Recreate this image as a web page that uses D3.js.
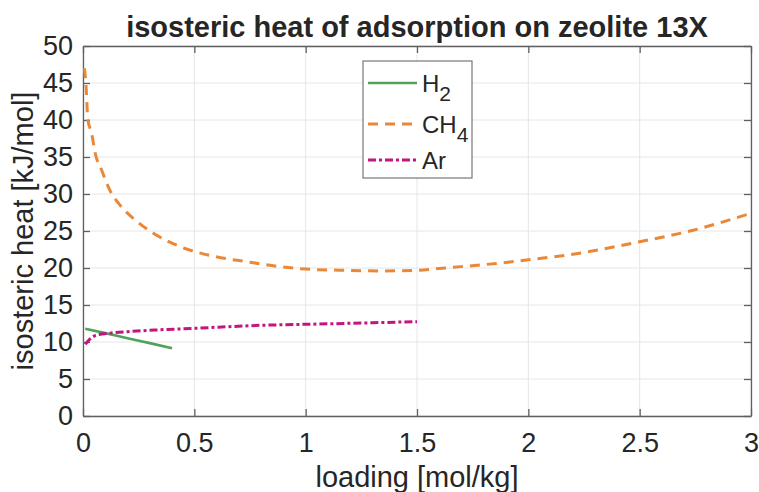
<!DOCTYPE html>
<html>
<head>
<meta charset="utf-8">
<script src="https://cdn.jsdelivr.net/npm/d3@7"></script>
<style>
  body { margin: 0; background: #fff; }
  text { font-family: "Liberation Sans", Arial, Helvetica, sans-serif; fill: #262626; }
</style>
</head>
<body>
<div class="chart"></div>
<script>
// series
var h2X = [0.01, 0.1, 0.2, 0.3, 0.4];
var h2Y = [11.8, 11.2, 10.5, 9.85, 9.15];

var ch4X = [0.006, 0.013, 0.022, 0.039, 0.054, 0.084, 0.121, 0.166, 0.226, 0.316, 0.436, 0.585, 0.735, 0.855, 1.0, 1.15, 1.334, 1.5, 1.663, 1.8, 2.0, 2.25, 2.5, 2.74, 3.0];
var ch4Y = [47, 45, 40, 38.2, 35.6, 33.2, 30.5, 28.5, 26.7, 24.7, 22.9, 21.6, 20.85, 20.3, 19.85, 19.7, 19.6, 19.7, 20.1, 20.45, 21.1, 22.1, 23.55, 25.1, 27.4];

var arX = [0.01, 0.031, 0.062, 0.121, 0.2, 0.346, 0.5, 0.795, 1.094, 1.3, 1.5];
var arY = [9.7, 10.4, 10.95, 11.2, 11.4, 11.65, 11.85, 12.25, 12.45, 12.6, 12.75];

var xTicks = [0, 0.5, 1, 1.5, 2, 2.5, 3];
var yTicks = [0, 5, 10, 15, 20, 25, 30, 35, 40, 45, 50];

var seriesNames = ["H", "CH", "Ar"];
var seriesSubs = ["2", "4", ""];

var svgWidth = 759;
var svgHeight = 492;
var margin = {top: 46, right: 8, bottom: 76, left: 83};
var width = svgWidth - margin.left - margin.right;
var height = svgHeight - margin.top - margin.bottom;

var svg = d3.select(".chart")
  .append("svg")
  .attr("width", svgWidth)
  .attr("height", svgHeight);

var chart = svg.append("g")
  .attr("transform", "translate(" + margin.left + "," + margin.top + ")");

var x = d3.scaleLinear().domain([0, 3]).range([0, width]);
var y = d3.scaleLinear().domain([0, 50]).range([height, 0]);

// grid
chart.append("g")
  .selectAll("line.gx")
  .data(xTicks)
  .enter().append("line")
  .attr("x1", d => x(d)).attr("x2", d => x(d))
  .attr("y1", 0).attr("y2", height)
  .attr("stroke", "#e6e6e6").attr("stroke-width", 1);
chart.append("g")
  .selectAll("line.gy")
  .data(yTicks)
  .enter().append("line")
  .attr("x1", 0).attr("x2", width)
  .attr("y1", d => y(d)).attr("y2", d => y(d))
  .attr("stroke", "#e6e6e6").attr("stroke-width", 1);

// axes, ticks inward
function styleAxis(g) {
  g.select(".domain").attr("stroke", "#606060").attr("stroke-width", 1.3);
  g.selectAll(".tick line").attr("stroke", "#606060").attr("stroke-width", 1.3);
  g.selectAll(".tick text").style("font-size", "27px").attr("fill", "#262626");
}

var bottomAxis = d3.axisBottom(x).tickValues(xTicks).tickFormat(d3.format("~g"))
  .tickSizeInner(-7).tickSizeOuter(0).tickPadding(17);
var leftAxis = d3.axisLeft(y).tickValues(yTicks).tickFormat(d3.format("~g"))
  .tickSizeInner(-7).tickSizeOuter(0).tickPadding(10);

chart.append("g").attr("transform", "translate(0," + height + ")").call(bottomAxis).call(styleAxis);
chart.append("g").call(leftAxis).call(styleAxis);
chart.append("g").call(d3.axisTop(x).tickValues(xTicks).tickFormat("").tickSizeInner(-7).tickSizeOuter(0)).call(styleAxis);
chart.append("g").attr("transform", "translate(" + width + ",0)")
  .call(d3.axisRight(y).tickValues(yTicks).tickFormat("").tickSizeInner(-7).tickSizeOuter(0)).call(styleAxis);

// lines
var line = d3.line()
  .x(d => x(d[0]))
  .y(d => y(d[1]))
  .curve(d3.curveMonotoneX);

var series = [
  {pts: d3.zip(h2X, h2Y), color: "#4fa35a", dash: null, w: 2.6},
  {pts: d3.zip(ch4X, ch4Y), color: "#ea8838", dash: "10,7", w: 3},
  {pts: d3.zip(arX, arY), color: "#c4157f", dash: "8,3,3,3", w: 3}
];

chart.append("g").selectAll("path")
  .data(series)
  .enter().append("path")
  .attr("d", d => line(d.pts))
  .attr("fill", "none")
  .attr("stroke", d => d.color)
  .attr("stroke-width", d => d.w)
  .attr("stroke-dasharray", d => d.dash);

// legend
var legend = svg.append("g").attr("transform", "translate(363,61)");
legend.append("rect")
  .attr("width", 109).attr("height", 117)
  .attr("fill", "#fff").attr("stroke", "#777").attr("stroke-width", 1.2);

var rowY = [22, 63, 99];
series.forEach(function(s, i) {
  legend.append("line")
    .attr("x1", 5).attr("x2", 54)
    .attr("y1", rowY[i]).attr("y2", rowY[i])
    .attr("stroke", s.color).attr("stroke-width", s.w)
    .attr("stroke-dasharray", s.dash);
  var t = legend.append("text")
    .attr("x", 59).attr("y", rowY[i] + 9)
    .style("font-size", "24px")
    .text(seriesNames[i]);
  if (seriesSubs[i]) {
    t.append("tspan").attr("dy", 9).style("font-size", "21px").text(seriesSubs[i]);
  }
});

// title and labels
svg.append("text")
  .attr("x", margin.left + width / 2).attr("y", 37)
  .attr("text-anchor", "middle")
  .style("font-size", "29px").style("font-weight", "bold")
  .attr("fill", "#000")
  .text("isosteric heat of adsorption on zeolite 13X");

svg.append("text")
  .attr("x", margin.left + width / 2).attr("y", 487)
  .attr("text-anchor", "middle")
  .style("font-size", "29px")
  .text("loading [mol/kg]");

svg.append("text")
  .attr("transform", "translate(33," + (margin.top + height / 2) + ") rotate(-90)")
  .attr("text-anchor", "middle")
  .style("font-size", "29px")
  .text("isosteric heat [kJ/mol]");
</script>
</body>
</html>
